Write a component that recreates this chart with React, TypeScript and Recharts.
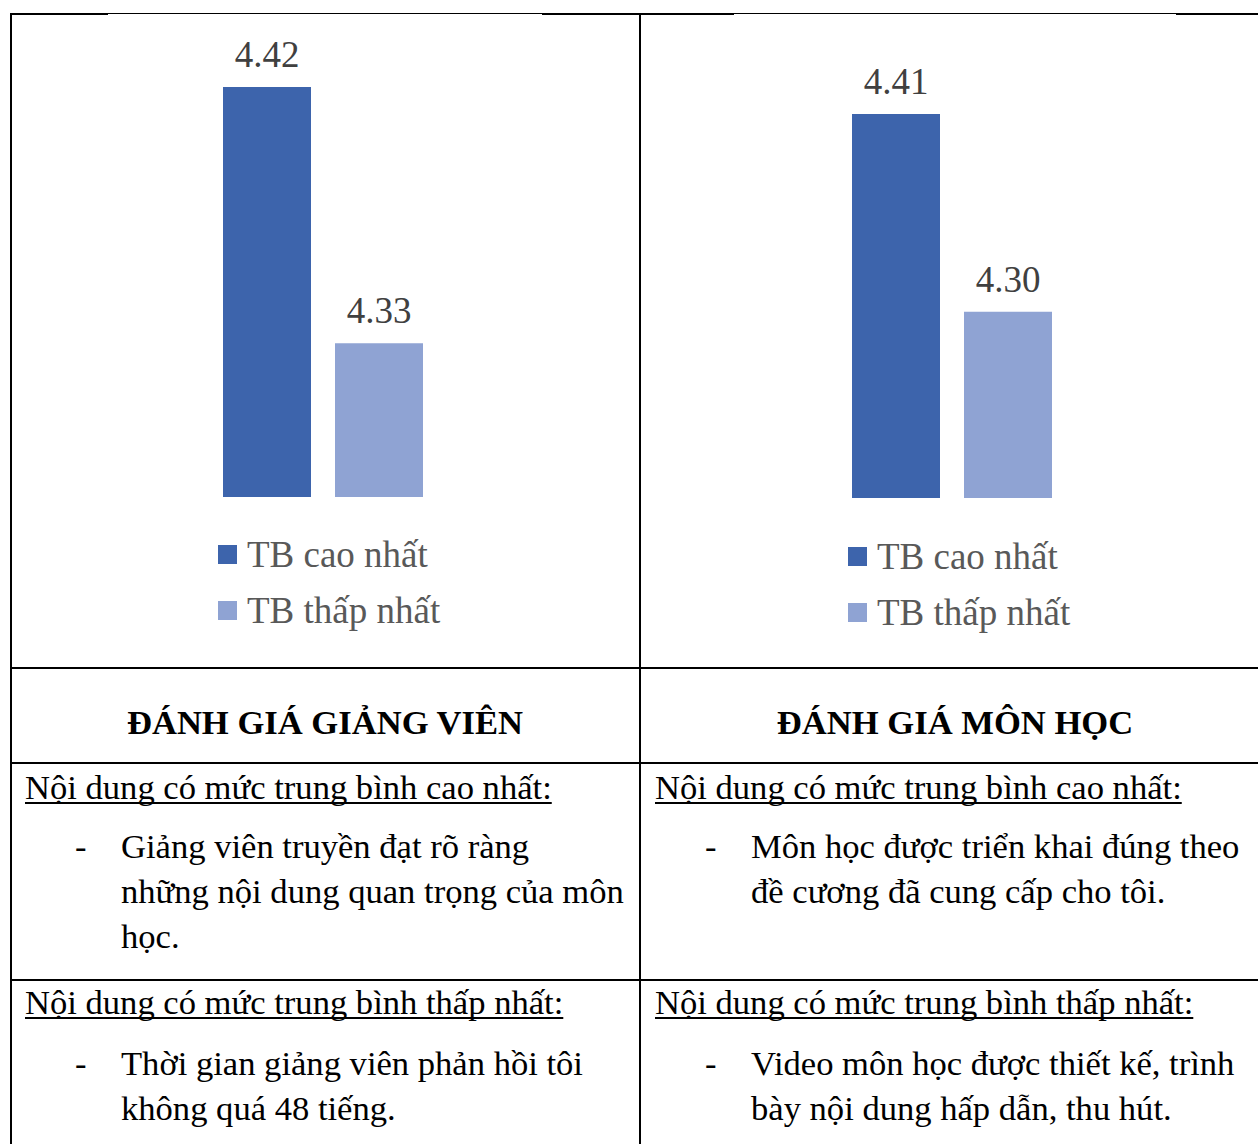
import React from "react";
import { BarChart, Bar, XAxis, YAxis, Legend, LabelList } from "recharts";

// chart data
const categories = ["Đánh giá"];
const seriesNames = ["TB cao nhất", "TB thấp nhất"];
const lecturerHigh = [4.42];
const lecturerLow = [4.33];
const courseHigh = [4.41];
const courseLow = [4.3];

// table text
const headers = ["ĐÁNH GIÁ GIẢNG VIÊN", "ĐÁNH GIÁ MÔN HỌC"];
const highTitle = "Nội dung có mức trung bình cao nhất:";
const lowTitle = "Nội dung có mức trung bình thấp nhất:";
const lecturerHighLines = [
  "Giảng viên truyền đạt rõ ràng",
  "những nội dung quan trọng của môn",
  "học.",
];
const courseHighLines = [
  "Môn học được triển khai đúng theo",
  "đề cương đã cung cấp cho tôi.",
];
const lecturerLowLines = ["Thời gian giảng viên phản hồi tôi", "không quá 48 tiếng."];
const courseLowLines = ["Video môn học được thiết kế, trình", "bày nội dung hấp dẫn, thu hút."];

const DARK = "#3d64ac";
const LIGHT = "#8fa3d3";
const SERIF = "'Liberation Serif', 'Times New Roman', serif";

const buildData = (high: number[], low: number[]) =>
  categories.map((c, i) => ({ name: c, high: high[i], low: low[i] }));

const renderLegend = (props: any) => {
  const items = props.payload || [];
  return (
    <div style={{ fontFamily: SERIF, fontSize: 37, color: "#595959" }}>
      {items.map((entry: any) => (
        <div key={entry.value} style={{ position: "relative", height: 56, lineHeight: "56px", paddingLeft: 29, whiteSpace: "nowrap" }}>
          <span style={{ position: "absolute", left: 0, top: 18, width: 19, height: 19, background: entry.color }} />
          {entry.value}
        </div>
      ))}
    </div>
  );
};

interface ChartProps {
  high: number[];
  low: number[];
  domain: [number, number];
  left: number;
  marginTop: number;
  marginBottom: number;
  legendLeft: number;
  legendTop: number;
}

function ScoreChart({ high, low, domain, left, marginTop, marginBottom, legendLeft, legendTop }: ChartProps) {
  const data = buildData(high, low);
  return (
    <div style={{ position: "absolute", left, top: 14 }}>
      <BarChart
        width={600}
        height={640}
        data={data}
        margin={{ top: marginTop, right: 0, bottom: marginBottom, left: 0 }}
        barGap={24}
      >
        <XAxis dataKey="name" hide />
        <YAxis hide domain={domain} allowDataOverflow />
        <Legend
          layout="horizontal"
          verticalAlign="middle"
          align="center"
          content={renderLegend}
          wrapperStyle={{ position: "absolute", left: legendLeft, top: legendTop, width: 360, height: 112 }}
        />
        <Bar dataKey="high" name={seriesNames[0]} fill={DARK} barSize={88} isAnimationActive={false}>
          <LabelList
            dataKey="high"
            position="top"
            offset={20}
            formatter={(v: any) => Number(v).toFixed(2)}
            style={{ fontFamily: SERIF, fontSize: 37, fill: "#404040" }}
          />
        </Bar>
        <Bar dataKey="low" name={seriesNames[1]} fill={LIGHT} barSize={88} isAnimationActive={false}>
          <LabelList
            dataKey="low"
            position="top"
            offset={20}
            formatter={(v: any) => Number(v).toFixed(2)}
            style={{ fontFamily: SERIF, fontSize: 37, fill: "#404040" }}
          />
        </Bar>
      </BarChart>
    </div>
  );
}

const line = (left: number, top: number, width: number, height: number) => (
  <div style={{ position: "absolute", left, top, width, height, background: "#000" }} />
);

const textStyle: React.CSSProperties = {
  position: "absolute",
  fontFamily: SERIF,
  fontSize: 34.6,
  lineHeight: "45px",
  color: "#000",
  whiteSpace: "nowrap",
};

function Cell({ x, top, gap, title, lines }: { x: number; top: number; gap: number; title: string; lines: string[] }) {
  return (
    <>
      <div
        style={{
          ...textStyle,
          left: x,
          top,
          textDecoration: "underline",
          textDecorationThickness: 2,
          textDecorationSkipInk: "none",
          textUnderlineOffset: 3,
        }}
      >
        {title}
      </div>
      <div style={{ ...textStyle, left: x + 50, top: top + gap }}>-</div>
      {lines.map((l, i) => (
        <div key={i} style={{ ...textStyle, left: x + 96, top: top + gap + i * 45 }}>
          {l}
        </div>
      ))}
    </>
  );
}

export default function App() {
  return (
    <div style={{ position: "absolute", left: 0, top: 0, width: 1258, height: 1144, overflow: "hidden", background: "#fff" }}>
      {/* table borders */}
      {line(10, 13, 1248, 1)}
      {line(10, 13, 98, 2)}
      {line(542, 13, 192, 2)}
      {line(1176, 13, 82, 2)}
      {line(10, 13, 2, 1131)}
      {line(639, 13, 2, 1131)}
      {line(10, 667, 1248, 2)}
      {line(10, 762, 1248, 2)}
      {line(10, 979, 1248, 2)}

      <ScoreChart
        high={lecturerHigh}
        low={lecturerLow}
        domain={[4.276, 4.44]}
        left={23}
        marginTop={16}
        marginBottom={157}
        legendLeft={195}
        legendTop={513}
      />
      <ScoreChart
        high={courseHigh}
        low={courseLow}
        domain={[4.1965, 4.45]}
        left={652}
        marginTop={28}
        marginBottom={156}
        legendLeft={196}
        legendTop={515}
      />

      {/* header row */}
      <div style={{ ...textStyle, left: 10, width: 630, top: 700, textAlign: "center", fontWeight: "bold" }}>{headers[0]}</div>
      <div style={{ ...textStyle, left: 640, width: 630, top: 700, textAlign: "center", fontWeight: "bold" }}>{headers[1]}</div>

      <Cell x={25} top={765} gap={59} title={highTitle} lines={lecturerHighLines} />
      <Cell x={655} top={765} gap={59} title={highTitle} lines={courseHighLines} />
      <Cell x={25} top={980} gap={61} title={lowTitle} lines={lecturerLowLines} />
      <Cell x={655} top={980} gap={61} title={lowTitle} lines={courseLowLines} />
    </div>
  );
}
